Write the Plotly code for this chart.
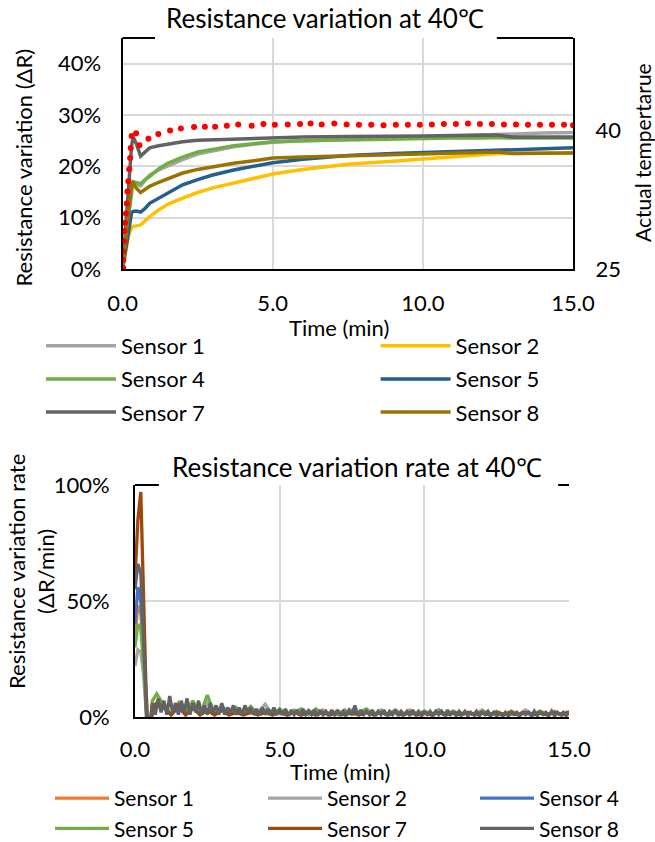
import plotly.graph_objects as go

# ---------------- Top chart: resistance variation (%) ----------------
time_top = [0, 0.1, 0.2, 0.3, 0.35, 0.45, 0.6, 0.75, 0.9, 1.2, 1.5, 2.0, 2.5, 3.0,
            3.7, 4.5, 5.0, 6.0, 7.5, 9.0, 10.0, 11.0, 12.0, 12.5, 13.0, 14.0, 15.0]
top_s1 = [0, 4.5, 10.5, 15.5, 16.6, 16.5, 16.2, 17.3, 18.3, 19.3, 20.1, 21.3, 22.4, 23.0,
          23.8, 24.4, 24.7, 25.0, 25.2, 25.4, 25.7, 25.9, 26.1, 26.3, 26.4, 26.5, 26.6]
top_s2 = [0, 3.0, 6.5, 8.0, 8.3, 8.4, 8.6, 9.4, 10.2, 11.5, 12.6, 13.8, 14.9, 15.8,
          16.7, 17.8, 18.5, 19.4, 20.4, 21.0, 21.4, 21.8, 22.2, 22.5, 22.5, 22.6, 22.7]
top_s4 = [0, 5.0, 11.0, 16.0, 17.0, 16.9, 16.6, 17.4, 18.0, 19.5, 20.6, 21.8, 22.8, 23.3,
          24.0, 24.5, 24.8, 25.0, 25.2, 25.3, 25.4, 25.5, 25.5, 25.6, 25.5, 25.5, 25.5]
top_s5 = [0, 4.0, 8.0, 11.0, 11.2, 11.3, 11.1, 11.8, 12.8, 13.8, 14.8, 16.4, 17.4, 18.3,
          19.3, 20.2, 20.7, 21.4, 22.1, 22.5, 22.7, 22.9, 23.1, 23.2, 23.2, 23.4, 23.6]
top_s7 = [0, 8.0, 17.0, 24.0, 25.7, 24.5, 22.0, 22.8, 23.6, 24.0, 24.3, 24.8, 25.1, 25.2,
          25.4, 25.5, 25.6, 25.7, 25.8, 25.8, 25.9, 26.0, 26.0, 26.1, 25.7, 25.7, 25.7]
top_s8 = [0, 6.0, 12.0, 16.5, 16.8, 15.8, 14.9, 15.5, 16.1, 16.9, 17.6, 18.7, 19.4, 19.9,
          20.6, 21.2, 21.6, 21.8, 22.0, 22.3, 22.5, 22.6, 22.6, 22.8, 22.5, 22.5, 22.6]

time_temp = [0.02, 0.02, 0.02, 0.05, 0.06, 0.08, 0.11, 0.14, 0.16, 0.19, 0.22, 0.25, 0.27,
             0.30, 0.45, 0.56, 0.86, 1.19, 1.58, 1.94, 2.38, 2.74, 3.08, 3.47, 3.85, 4.30,
             4.69, 5.07, 5.50, 5.91, 6.26, 6.63, 7.05, 7.46, 7.87, 8.28, 8.69, 9.10, 9.50,
             9.90, 10.30, 10.70, 11.10, 11.50, 11.90, 12.30, 12.70, 13.10, 13.50, 13.90,
             14.30, 14.70, 15.00]
temp = [25.1, 26.0, 26.9, 28.0, 29.1, 30.0, 31.0, 32.1, 33.4, 34.5, 35.8, 37.0, 38.1,
        39.4, 39.7, 38.4, 39.1, 39.6, 40.0, 40.2, 40.36, 40.4, 40.4, 40.5, 40.65, 40.5,
        40.7, 40.6, 40.65, 40.7, 40.76, 40.65, 40.76, 40.65, 40.6, 40.6, 40.55, 40.6, 40.6,
        40.6, 40.65, 40.7, 40.7, 40.75, 40.7, 40.7, 40.65, 40.65, 40.6, 40.6, 40.6, 40.6,
        40.55]

# ---------------- Bottom chart: resistance variation rate (%/min) ----------------
time_spike = [0, 0.1, 0.2, 0.3, 0.4]
time_coarse = [0.5, 0.6, 0.75,
               1.0, 1.25, 1.5, 1.75, 2.0, 2.25, 2.5, 2.75, 3.0, 3.25,
               3.5, 3.75, 4.0, 4.25, 4.5, 4.75, 5.0, 5.25, 5.5, 5.75,
               6.0, 6.25, 6.5, 6.75, 7.0, 7.25, 7.5, 7.75, 8.0, 8.25,
               8.5, 8.75, 9.0, 9.25, 9.5, 9.75, 10.0, 10.25, 10.5, 10.75,
               11.0, 11.25, 11.5, 11.75, 12.0, 12.25, 12.5, 12.75, 13.0, 13.25,
               13.5, 13.75, 14.0, 14.25, 14.5, 14.75, 15.0]
time_fine = [0.5, 0.6, 0.7, 0.8, 0.9, 1.0, 1.1, 1.2, 1.3, 1.4,
             1.5, 1.6, 1.7, 1.8, 1.9, 2.0, 2.1, 2.2, 2.3, 2.4,
             2.5, 2.6, 2.7, 2.8, 2.9, 3.0, 3.1, 3.2, 3.3, 3.4,
             3.5, 3.6, 3.7, 3.8, 3.9, 4.0, 4.1, 4.2, 4.3, 4.4,
             4.5, 4.6, 4.7, 4.8, 4.9, 5.0, 5.1, 5.2, 5.3, 5.4,
             5.5, 5.6, 5.7, 5.8, 5.9, 6.0, 6.1, 6.2, 6.3, 6.4,
             6.5, 6.6, 6.7, 6.8, 6.9, 7.0, 7.1, 7.2, 7.3, 7.4,
             7.5, 7.6, 7.7, 7.8, 7.9, 8.0, 8.1, 8.2, 8.3, 8.4,
             8.5, 8.6, 8.7, 8.8, 8.9, 9.0, 9.1, 9.2, 9.3, 9.4,
             9.5, 9.6, 9.7, 9.8, 9.9, 10.0, 10.1, 10.2, 10.3, 10.4,
             10.5, 10.6, 10.7, 10.8, 10.9, 11.0, 11.1, 11.2, 11.3, 11.4,
             11.5, 11.6, 11.7, 11.8, 11.9, 12.0, 12.1, 12.2, 12.3, 12.4,
             12.5, 12.6, 12.7, 12.8, 12.9, 13.0, 13.1, 13.2, 13.3, 13.4,
             13.5, 13.6, 13.7, 13.8, 13.9, 14.0, 14.1, 14.2, 14.3, 14.4,
             14.5, 14.6, 14.7, 14.8, 14.9, 15.0]

rate_s1 = [35, 48, 45, 25, 0,
           -10, 4, 5,
           4, 1, 5, 1, 4, 1, 3, 1, 3, 1,
           3, 1, 2, 1, 2, 1, 2, 1, 2, 1,
           2, 1, 2, 1, 2, 1, 2, 1, 2, 1,
           2, 1, 2, 1, 2, 1, 2, 1, 2, 1,
           2, 1, 2, 1, 2, 1, 2, 1, 2, 1,
           2, 1, 2, 1, 2, 1, 2]
rate_s2 = [22, 29, 28, 18, 0,
           -8, 4, 5,
           5, 1, 6, 1, 5, 2, 6, 1, 4, 1,
           4, 1, 4, 2, 5.5, 1, 3, 1, 3, 1,
           3, 1, 3, 1, 2.5, 1, 3, 1, 2.5, 1,
           3, 1, 2.5, 1, 3, 1, 2.5, 1, 3, 1,
           2.5, 1, 2, 1, 3, 1, 2.5, 1, 2.5, 1,
           3, 1, 2.5, 1, 2.5, 1, 2.5]
rate_s4 = [40, 56, 50, 30, 0,
           -10, 4, 6,
           5, 1, 4, 1, 4, 1, 3, 1, 3, 1,
           2, 1, 3, 1, 2, 1, 2, 1, 2, 1,
           2, 1, 2, 1, 2, 1, 2, 1, 2, 1,
           2, 1, 2, 1, 2, 1, 2, 1, 2, 1,
           2, 1, 2, 1, 2, 1, 2, 1, 2, 1,
           2, 1, 2, 1, 2, 1, 2]
rate_s5 = [30, 40, 38, 22, 0,
           -10, 7, 10,
           5, 1, 6, 2, 7, 1, 9.5, 1, 5, 1,
           4, 1, 4.5, 1, 3, 1, 3.5, 1, 2, 3.5,
           1, 3.5, 1, 2, 1, 3, 1, 2, 3.5, 1,
           2, 1, 3, 1, 2, 1, 2.5, 1, 3, 1,
           2.5, 1, 2, 1, 2.5, 1, 2, 1, 2.5, 1,
           2, 1, 2.5, 1, 2, 1, 2]
rate_s7 = [60, 85, 97, 55, 3,
           -15, 4, 6,
           4, 1, 5, 1, 4, 1, 3, 1, 3, 1,
           2, 1, 2, 1, 2, 1, 2, 1, 2, 1,
           2, 1, 2, 1, 2, 1, 2, 1, 2, 1,
           2, 1, 2, 1, 2, 1, 2, 1, 2, 1,
           2, 1, 2, 1, 2, 1, 2, 1, 2, 1,
           2, 1, 2, 1, 2, 1, 2]
rate_s8_spike = [55, 66, 62, 35, 2]
rate_s8 = [-5, 6, 1, 8, 2, 7, 1, 9, 2, 6,
           1, 7, 2, 8, 1, 6, 2, 7, 1, 5,
           1, 6, 2, 5, 1, 6, 1, 4, 2, 5,
           1, 4, 1, 5, 2, 4, 1, 3.5, 1, 4,
           1, 3.5, 1, 4, 1, 3, 1, 3.5, 0.5, 3,
           1, 3, 0.5, 3.5, 1, 2.5, 1, 3, 0.5, 3,
           1, 2.5, 0.5, 3, 1, 3, 0.5, 2.5, 1, 3,
           1, 5, 0.5, 3, 1, 2.5, 1, 3, 0.5, 2.5,
           1, 3, 0.5, 2.5, 1, 3, 0.5, 2.5, 1, 2.5,
           0.5, 3, 1, 2.5, 0.5, 2, 1, 2.5, 0.5, 2.5,
           1, 2.5, 0.5, 3, 1, 2, 0.5, 2.5, 1, 2.5,
           0.5, 2, 1, 2.5, 0.5, 2, 1, 2.5, 0.5, 2,
           0.5, 1.5, 0.5, 2, 0.5, 1.5, 1, 2, 0.5, 2,
           1, 2, 0.5, 2.5, 0.5, 2, 1, 2, 0.5, 2.5,
           0.5, 2, 1, 2, 0.5, 2]

names = ["Sensor 1", "Sensor 2", "Sensor 4", "Sensor 5", "Sensor 7", "Sensor 8"]
top_series = [top_s1, top_s2, top_s4, top_s5, top_s7, top_s8]
rate_x = [time_spike + time_coarse] * 5 + [time_spike + time_fine]
rate_series = [rate_s1, rate_s2, rate_s4, rate_s5, rate_s7, rate_s8_spike + rate_s8]

top_colors = ["#A5A5A5", "#FFC000", "#70AD47", "#255E91", "#636363", "#997300"]
bot_colors = ["#ED7D31", "#A5A5A5", "#4472C4", "#70AD47", "#9E480E", "#636363"]

# legend column assignment (layout only)
top_legends = ["legend", "legend2", "legend", "legend2", "legend", "legend2"]
bot_legends = ["legend3", "legend4", "legend5", "legend3", "legend4", "legend5"]

FONT = "Lato"
fig = go.Figure()

for i, (n, ys, c) in enumerate(zip(names, top_series, top_colors)):
    fig.add_trace(go.Scatter(x=time_top, y=ys, name=n, mode="lines",
                             line=dict(color=c, width=3.5), legend=top_legends[i],
                             legendgroup="t%d" % i, xaxis="x", yaxis="y"))
fig.add_trace(go.Scatter(x=time_temp, y=temp, mode="markers", showlegend=False,
                         marker=dict(color="#FF0000", size=6), xaxis="x", yaxis="y2"))

for i, (n, xs, ys, c) in enumerate(zip(names, rate_x, rate_series, bot_colors)):
    fig.add_trace(go.Scatter(x=xs, y=ys, name=n, mode="lines",
                             line=dict(color=c, width=3.3), legend=bot_legends[i],
                             legendgroup="b%d" % i, xaxis="x2", yaxis="y3"))

W, H = 655, 842
def px(x):
    return x / W
def py(y):
    return 1 - y / H

grid = "#D9D9D9"
tickfont = dict(family=FONT, size=22, color="black")
common_x = dict(range=[0, 15], tickvals=[0, 5, 10, 15], ticktext=["0.0", "5.0", "10.0", "15.0"],
                showgrid=True, gridcolor=grid, gridwidth=2, showline=True, linecolor="black",
                linewidth=2, zeroline=False, ticks="", tickfont=tickfont, automargin=False)

def col_legend(x, y, iw, gap, size):
    return dict(orientation="v", x=px(x), y=py(y), xanchor="left", yanchor="top",
                itemwidth=iw, font=dict(family=FONT, size=size, color="black"),
                bgcolor="rgba(0,0,0,0)", traceorder="grouped", tracegroupgap=gap)

fig.update_layout(
    template="plotly_white",
    width=W, height=H, margin=dict(l=0, r=0, t=0, b=0, autoexpand=False),
    paper_bgcolor="white", plot_bgcolor="white",
    font=dict(family=FONT, color="black"),
    xaxis=dict(domain=[px(122.6), px(573)], anchor="y", ticklabelstandoff=14, **common_x),
    yaxis=dict(domain=[py(269), py(38)], anchor="x", range=[0, 45], tickvals=[0, 10, 20, 30, 40],
               ticktext=["0%", "10%", "20%", "30%", "40%"], showgrid=True, gridcolor=grid,
               gridwidth=2, showline=True, linecolor="black", linewidth=2, zeroline=False,
               ticks="", tickfont=tickfont, ticklabelstandoff=15, automargin=False),
    yaxis2=dict(overlaying="y", side="right", anchor="x", range=[25, 50], tickvals=[25, 40],
                ticktext=["25", "40"], showgrid=False, showline=True, linecolor="black",
                linewidth=2, zeroline=False, ticks="", tickfont=tickfont, ticklabelstandoff=16,
                automargin=False),
    xaxis2=dict(domain=[px(135), px(569)], anchor="y3", ticklabelstandoff=12, **common_x),
    yaxis3=dict(domain=[py(717), py(485)], anchor="x2", range=[0, 100], tickvals=[0, 50, 100],
                ticktext=["0%", "50%", "100%"], showgrid=True, gridcolor=grid, gridwidth=2,
                showline=True, linecolor="black", linewidth=2, zeroline=False, ticks="",
                tickfont=tickfont, ticklabelstandoff=19, automargin=False),
    legend=col_legend(41, 325, 70, 1.5, 22),
    legend2=col_legend(375.6, 325, 70, 1.5, 22),
    legend3=col_legend(50, 778, 54, 0, 21),
    legend4=col_legend(263, 778, 54, 0, 21),
    legend5=col_legend(475, 778, 54, 0, 21),
    shapes=[
        dict(type="line", xref="x domain", yref="y domain", x0=0, x1=0.072, y0=1, y1=1,
             line=dict(color="black", width=2)),
        dict(type="line", xref="x domain", yref="y domain", x0=0.831, x1=1, y0=1, y1=1,
             line=dict(color="black", width=2)),
        dict(type="line", xref="x2 domain", yref="y3 domain", x0=0, x1=0.055, y0=1, y1=1,
             line=dict(color="black", width=2)),
        dict(type="line", xref="x2 domain", yref="y3 domain", x0=0.975, x1=1, y0=1, y1=1,
             line=dict(color="black", width=2)),
    ],
    annotations=[
        dict(text="Resistance variation at 40℃", x=px(325), y=py(18), xref="paper", yref="paper",
             showarrow=False, xanchor="center", yanchor="middle",
             font=dict(family=FONT, size=26, color="black")),
        dict(text="Resistance variation rate at 40℃", x=px(356.6), y=py(467), xref="paper",
             yref="paper", showarrow=False, xanchor="center", yanchor="middle",
             font=dict(family=FONT, size=26, color="black")),
        dict(text="Time (min)", x=px(339), y=py(328), xref="paper", yref="paper",
             showarrow=False, xanchor="center", yanchor="middle",
             font=dict(family=FONT, size=22, color="black")),
        dict(text="Time (min)", x=px(340), y=py(771), xref="paper", yref="paper",
             showarrow=False, xanchor="center", yanchor="middle",
             font=dict(family=FONT, size=22, color="black")),
        dict(text="Resistance variation (ΔR)", x=px(23), y=py(167.5), xref="paper", yref="paper",
             showarrow=False, xanchor="center", yanchor="middle", textangle=-90,
             font=dict(family=FONT, size=22, color="black")),
        dict(text="Actual tempertarue", x=px(642), y=py(153), xref="paper", yref="paper",
             showarrow=False, xanchor="center", yanchor="middle", textangle=-90,
             font=dict(family=FONT, size=21, color="black")),
        dict(text="Resistance variation rate<br>(ΔR/min)", x=px(31), y=py(572), xref="paper",
             yref="paper", showarrow=False, xanchor="center", yanchor="middle", textangle=-90,
             font=dict(family=FONT, size=22, color="black")),
    ],
)

fig.write_html("out.html", config={"displayModeBar": False},
               post_script="document.body.style.margin='0px';")
